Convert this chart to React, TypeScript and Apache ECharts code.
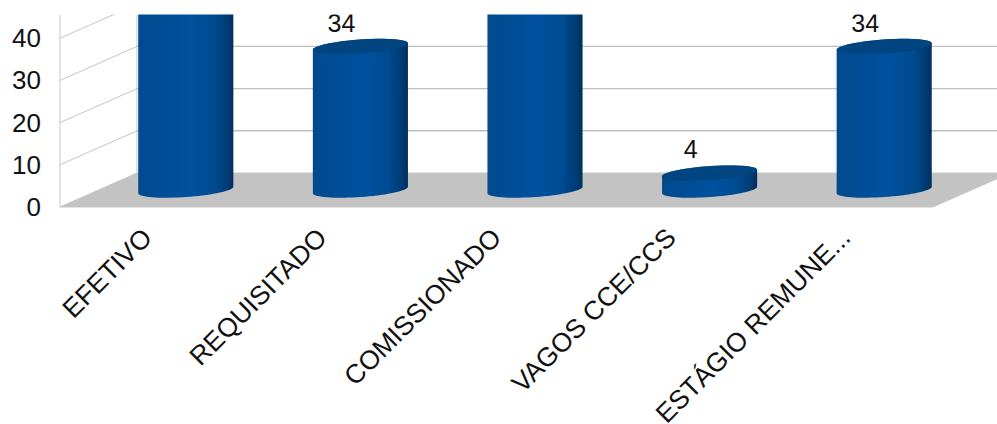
import React, { useEffect, useRef } from "react";
import * as echarts from "echarts";

const categories = ["EFETIVO", "REQUISITADO", "COMISSIONADO", "VAGOS CCE/CCS", "ESTÁGIO REMUNE..."];
// First and third columns run past the cropped top of the picture; their heights are estimates.
const values = [52, 34, 52, 4, 34];
const yTicks = [0, 10, 20, 30, 40];
const yMax = 45.5;
const font = "'Liberation Sans', Arial, sans-serif";
const depthX = 77;
const depthY = -34;
const phi = (-4 * Math.PI) / 180;

function ellipsePoints(cx: number, cy: number, a: number, b: number, from: number, to: number) {
  const pts: number[][] = [];
  const n = 36;
  for (let i = 0; i <= n; i++) {
    const t = from + ((to - from) * i) / n;
    pts.push([
      cx + a * Math.cos(t) * Math.cos(phi) - b * Math.sin(t) * Math.sin(phi),
      cy + a * Math.cos(t) * Math.sin(phi) + b * Math.sin(t) * Math.cos(phi),
    ]);
  }
  return pts;
}

export default function App() {
  const ref = useRef<HTMLDivElement>(null);
  useEffect(() => {
    const chart = echarts.init(ref.current!, undefined, { renderer: "svg" });
    const bodyFill = new echarts.graphic.LinearGradient(0, 0, 1, 0, [
      { offset: 0, color: "#014a8c" },
      { offset: 0.25, color: "#004d96" },
      { offset: 0.55, color: "#00519e" },
      { offset: 0.8, color: "#004a8f" },
      { offset: 0.93, color: "#003c76" },
      { offset: 1, color: "#002f5e" },
    ]);
    chart.setOption({
      animation: false,
      backgroundColor: "#ffffff",
      grid: { left: 60, width: 873, top: 15, height: 192, containLabel: false, outerBoundsMode: "none" },
      xAxis: {
        type: "category",
        data: categories,
        axisLine: { show: false },
        axisTick: { show: false },
        splitLine: { show: false },
        axisLabel: { interval: 0, rotate: 45, margin: 26, fontSize: 26.5, fontFamily: font, color: "#111111" },
      },
      yAxis: {
        type: "value",
        min: 0,
        max: yMax,
        interval: 10,
        axisLine: { show: false },
        axisTick: { show: false },
        splitLine: { show: false },
        axisLabel: { margin: 19, fontSize: 26, fontFamily: font, color: "#111111" },
      },
      series: [
        {
          type: "custom",
          name: "walls",
          z: 1,
          silent: true,
          data: yTicks.map((t) => [0, t]),
          encode: { x: 0, y: 1 },
          renderItem: (params: any, api: any) => {
            const cs = params.coordSys;
            const y = api.coord([0, api.value(1)])[1];
            const left = cs.x;
            const right = cs.x + cs.width;
            const children: any[] = [];
            if (api.value(1) === 0) {
              children.push({
                type: "polygon",
                shape: {
                  points: [
                    [left, y],
                    [left + depthX, y + depthY],
                    [right + depthX, y + depthY],
                    [right, y],
                  ],
                },
                style: { fill: "#c3c3c3", stroke: "#c6c6c6", lineWidth: 1 },
              });
              children.push({
                type: "line",
                shape: { x1: left, y1: cs.y, x2: left, y2: y },
                style: { stroke: "#c8c8c8", lineWidth: 1 },
              });
              children.push({
                type: "line",
                shape: { x1: left + depthX, y1: cs.y, x2: left + depthX, y2: y + depthY },
                style: { stroke: "#c4c4c4", lineWidth: 1 },
              });
            } else {
              children.push({
                type: "line",
                shape: { x1: left, y1: y, x2: left + depthX, y2: y + depthY },
                style: { stroke: "#c4c4c4", lineWidth: 1 },
              });
              children.push({
                type: "line",
                shape: { x1: left + depthX, y1: y + depthY, x2: right + depthX, y2: y + depthY },
                style: { stroke: "#c0c0c0", lineWidth: 1.4 },
              });
            }
            return { type: "group", children };
          },
        },
        {
          type: "custom",
          name: "columns",
          z: 3,
          silent: true,
          data: values.map((v, i) => [i, v]),
          encode: { x: 0, y: 1 },
          renderItem: (_params: any, api: any) => {
            const v = api.value(1);
            const base = api.coord([api.value(0), 0]);
            const top = api.coord([api.value(0), v]);
            const band = api.size([1, 0])[0];
            const cx = base[0] + depthX / 2;
            const cyB = base[1] + depthY / 2;
            const cyT = top[1] + depthY / 2;
            const a = band * 0.273;
            const b = 7;
            const body = [
              ...ellipsePoints(cx, cyB, a, b, 0, Math.PI),
              ...ellipsePoints(cx, cyT, a, b, Math.PI, 2 * Math.PI),
            ];
            const cap = ellipsePoints(cx, cyT, a, b, 0, 2 * Math.PI);
            const children: any[] = [
              { type: "polygon", shape: { points: body }, style: { fill: bodyFill } },
              { type: "polygon", shape: { points: cap }, style: { fill: "#00457f" } },
            ];
            if (v <= yMax) {
              children.push({
                type: "text",
                style: {
                  text: String(v),
                  x: cx - 19,
                  y: cyT - 24,
                  textAlign: "center",
                  textVerticalAlign: "middle",
                  fontSize: 25,
                  fontFamily: font,
                  fill: "#111111",
                },
              });
            }
            return { type: "group", children };
          },
        },
      ],
      graphic: [
        {
          type: "rect",
          z: 100,
          silent: true,
          shape: { x: 0, y: 0, width: 997, height: 14.5 },
          style: { fill: "#ffffff" },
        },
      ],
    });
    return () => chart.dispose();
  }, []);
  return (
    <div
      ref={ref}
      style={{ position: "absolute", left: 0, top: 0, width: 997, height: 424, overflow: "hidden" }}
    />
  );
}
